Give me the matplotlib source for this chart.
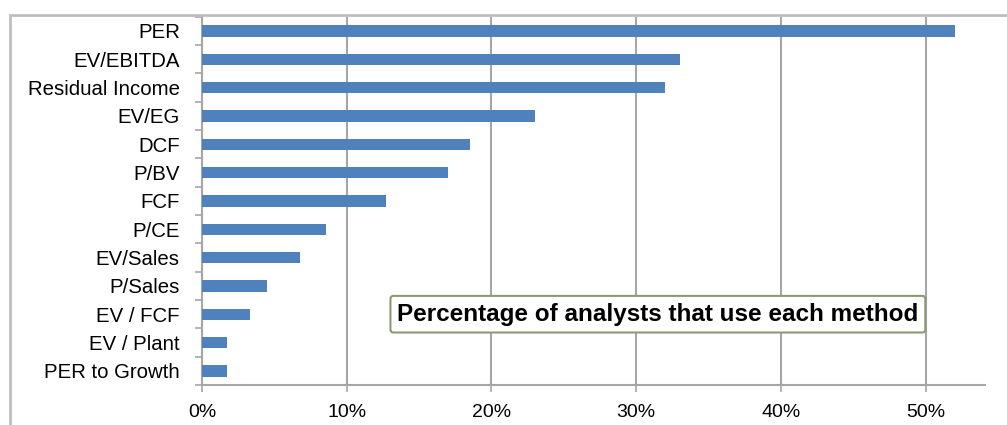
import matplotlib
matplotlib.use("Agg")
import matplotlib.pyplot as plt
from matplotlib.patches import Rectangle
from matplotlib.ticker import PercentFormatter, FixedLocator

plt.rcParams["font.family"] = ["Liberation Sans", "DejaVu Sans"]

# valuation methods, top to bottom, and share of analysts using each
methods = ["PER", "EV/EBITDA", "Residual Income", "EV/EG", "DCF", "P/BV", "FCF",
           "P/CE", "EV/Sales", "P/Sales", "EV / FCF", "EV / Plant", "PER to Growth"]
share = [0.52, 0.33, 0.32, 0.23, 0.185, 0.17, 0.127,
         0.086, 0.068, 0.045, 0.033, 0.017, 0.017]
x_ticks = [0.0, 0.1, 0.2, 0.3, 0.4, 0.5]
box_text = "Percentage of analysts that use each method"

BAR = "#4F81BD"
GRID = "#A6A6A6"

fig = plt.figure(figsize=(10.07, 4.25), dpi=100)
ax = fig.add_axes([0.2006, 0.0941, 0.7775, 0.8664])

# outer chart frame (cropped at right and bottom like the source image)
fig.patches.append(Rectangle((10 / 1007, -0.1), 1.2, (425 - 15) / 425 + 0.1,
                             transform=fig.transFigure, fill=False,
                             edgecolor="#BFBFBF", lw=2))

pos = list(range(len(methods)))
ax.barh(pos, share, height=0.4, color=BAR, zorder=3)
ax.set_yticks(pos, methods, fontsize=14.7)
ax.set_ylim(len(methods) - 0.5, -0.5)
ax.yaxis.set_minor_locator(FixedLocator([p - 0.5 for p in pos] + [len(methods) - 0.5]))
ax.tick_params(axis="y", which="major", length=0, pad=16)
ax.tick_params(axis="y", which="minor", length=5, width=1.2, color=GRID, direction="out")

ax.set_xlim(0, 0.541)
ax.set_xticks(x_ticks)
ax.xaxis.set_major_formatter(PercentFormatter(1.0, decimals=0))
ax.tick_params(axis="x", labelsize=14, length=5, width=1.2, color=GRID, pad=9)
ax.grid(axis="x", color=GRID, lw=1.5, zorder=0)

for side in ["top", "right"]:
    ax.spines[side].set_visible(False)
for side in ["left", "bottom"]:
    ax.spines[side].set_color(GRID)
    ax.spines[side].set_linewidth(1.5)

ax.text(0.315, 10.0, box_text, ha="center", va="center", fontsize=17.5,
        fontweight="bold", zorder=5,
        bbox=dict(boxstyle="round,pad=0.28,rounding_size=0.12", fc="white",
                  ec="#8C9A72", lw=1.5))

fig.savefig("out.png", dpi=100)
